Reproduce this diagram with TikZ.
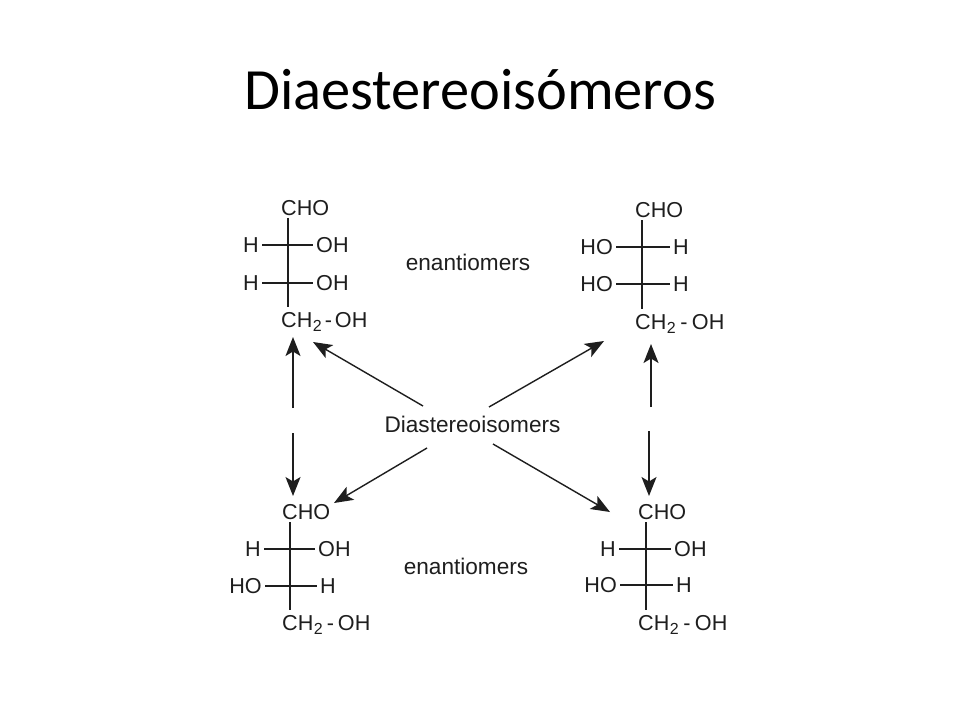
\documentclass[tikz,border=0pt]{standalone}
\usepackage{fontspec}
\setmainfont{Liberation Sans}
\newfontfamily\titlefont{Carlito}
\usetikzlibrary{arrows.meta}
\definecolor{ink}{HTML}{1E1E1E}
\newcommand{\chemsub}[1]{CH\kern0.5pt\raisebox{-4pt}{\fontsize{16}{16}\selectfont 2}\kern#1-\kern#1 OH}
\tikzset{
  atom/.style={font=\fontsize{21.6}{24}\selectfont,text=ink,inner xsep=3pt,inner ysep=2.5pt,text height=15.5pt,text depth=0pt},
  tail/.style={atom,inner ysep=5pt},
  lab/.style={font=\fontsize{22.6}{24}\selectfont,text=ink,inner sep=0pt},
  bond/.style={draw=ink,line width=1.5pt},
  rel/.style={draw=ink,line width=1.4pt,-{Stealth[length=19pt,width=15pt,inset=4.5pt]}}
}
\newcommand{\fbonds}[1]{%
  \draw[bond] (#1cho.south -| #1c1) -- (#1c1) -- (#1c2) -- (#1ch.north -| #1c2);
  \draw[bond] (#1l1) -- (#1c1) -- (#1r1);
  \draw[bond] (#1l2) -- (#1c2) -- (#1r2);
}
\begin{document}
\begin{tikzpicture}[x=1pt,y=-1pt]
\useasboundingbox[fill=white] (0,0) rectangle (960,720);
\node[font=\titlefont\fontsize{58.4}{64}\selectfont,text=black,inner sep=0pt] (title) at (480,90) {Diaestereoisómeros};

% molecule A
\node[atom,anchor=west] (Acho) at (278,207.5) {CHO};
\node[atom,anchor=center] (Al1) at (251,245) {H};
\node[atom,anchor=west] (Ar1) at (313,245) {OH};
\node[atom,anchor=center] (Al2) at (251,283) {H};
\node[atom,anchor=west] (Ar2) at (313,283) {OH};
\node[tail,anchor=west] (Ach) at (278,320) {\chemsub{3pt}};
\coordinate (Ac1) at (288,245);
\coordinate (Ac2) at (288,283);
\fbonds{A}

% molecule B
\node[atom,anchor=east] (Bl1) at (616,247) {HO};
\node[atom,anchor=west] (Br1) at (670,247) {H};
\node[atom,anchor=east] (Bl2) at (616,284) {HO};
\node[atom,anchor=west] (Br2) at (670,284) {H};
\node[atom,anchor=west] (Bcho) at (632,210) {CHO};
\node[tail,anchor=west] (Bch) at (632,322) {\chemsub{4.5pt}};
\coordinate (Bc1) at (642,247);
\coordinate (Bc2) at (642,284);
\fbonds{B}

% molecule C
\node[atom,anchor=west] (Ccho) at (279,512) {CHO};
\node[atom,anchor=center] (Cl1) at (253,549) {H};
\node[atom,anchor=west] (Cr1) at (315,549) {OH};
\node[atom,anchor=east] (Cl2) at (265,586) {HO};
\node[atom,anchor=west] (Cr2) at (317,586) {H};
\node[tail,anchor=west] (Cch) at (279,623) {\chemsub{4pt}};
\coordinate (Cc1) at (290,549);
\coordinate (Cc2) at (290,586);
\fbonds{C}

% molecule D
\node[atom,anchor=west] (Dcho) at (635,512) {CHO};
\node[atom,anchor=center] (Dl1) at (608,549) {H};
\node[atom,anchor=west] (Dr1) at (671,549) {OH};
\node[atom,anchor=east] (Dl2) at (620,585) {HO};
\node[atom,anchor=west] (Dr2) at (673,585) {H};
\node[tail,anchor=west] (Dch) at (635,623) {\chemsub{4.5pt}};
\coordinate (Dc1) at (646,549);
\coordinate (Dc2) at (646,585);
\fbonds{D}

\node[lab,anchor=center] (en1) at (468,262) {enantiomers};
\node[lab,anchor=center] (en2) at (466,566) {enantiomers};
\node[lab,anchor=center] (dia) at (472.5,424) {Diastereoisomers};

% free arrow ends
\coordinate (v1s) at (293,408); \coordinate (v1e) at (293,337);
\coordinate (v2s) at (651,407); \coordinate (v2e) at (651,344);
\coordinate (v3s) at (293,433); \coordinate (v3e) at (293,496);
\coordinate (v4s) at (649,431); \coordinate (v4e) at (649,496);
\coordinate (d1s) at (423,406); \coordinate (d1e) at (313,342);
\coordinate (d2s) at (489,407); \coordinate (d2e) at (604,341);
\coordinate (d3s) at (427,448); \coordinate (d3e) at (334,503);
\coordinate (d4s) at (493,444); \coordinate (d4e) at (610,512);
\foreach \a in {v1,v2,v3,v4,d1,d2,d3,d4}{\draw[rel] (\a s) -- (\a e);}
\end{tikzpicture}
\end{document}
